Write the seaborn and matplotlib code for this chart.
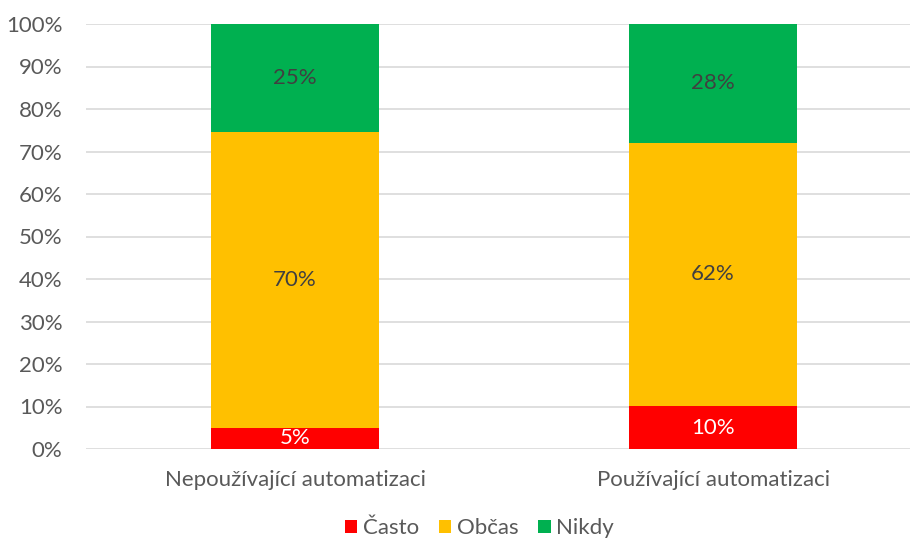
import seaborn as sns
import matplotlib.pyplot as plt
import pandas as pd
import numpy as np

sns.set_style("white")
plt.rcParams["font.family"] = ["Lato", "DejaVu Sans"]

groups = ["Nepoužívající automatizaci", "Používající automatizaci"]
series = ["Často", "Občas", "Nikdy"]
casto = [5.0, 10.1]
obcas = [69.6, 62.0]
nikdy = [25.4, 27.9]
colors = ["#FF0000", "#FFC000", "#00B050"]
label_colors = ["white", "#404040", "#404040"]

df = pd.DataFrame({"group": groups, "Často": casto, "Občas": obcas, "Nikdy": nikdy})
cum = df[series].cumsum(axis=1)

fig = plt.figure(figsize=(9.1, 5.42), dpi=100)
ax = fig.add_axes([86 / 910, 93 / 542, 1 - 86 / 910, 425 / 542])

# draw stacked bars from the top segment down so each overlays the previous
for i in reversed(range(len(series))):
    tmp = pd.DataFrame({"group": groups, "value": cum[series[i]]})
    sns.barplot(data=tmp, x="group", y="value", color=colors[i], width=0.402,
                saturation=1, ax=ax, label=series[i], linewidth=0, zorder=2)

# labels
for j in range(len(groups)):
    bottom = 0
    for i, s in enumerate(series):
        v = df[s][j]
        ax.text(j, bottom + v / 2, f"{round(v)}%", ha="center", va="center",
                fontsize=16, color=label_colors[i], zorder=3)
        bottom += v

ax.set_xlim(-0.5, 1.471)
ax.set_ylim(0, 100)
ax.set_yticks(np.arange(0, 101, 10))
ax.set_yticklabels([f"{t}%" for t in range(0, 101, 10)])
ax.yaxis.grid(True, color="#D9D9D9", linewidth=1.2, zorder=0)
ax.set_axisbelow(True)
for sp in ax.spines.values():
    sp.set_visible(False)
ax.tick_params(axis="both", length=0, labelsize=16, colors="#595959")
ax.tick_params(axis="y", pad=17)
ax.tick_params(axis="x", pad=15)
ax.set_xlabel("")
ax.set_ylabel("")

handles, labels = ax.get_legend_handles_labels()
if ax.get_legend() is not None:
    ax.get_legend().remove()
order = [labels.index(s) for s in series]
fig.legend([handles[k] for k in order], series, loc="lower center",
           bbox_to_anchor=(0.527, -0.03), ncol=3, frameon=False, fontsize=16,
           handlelength=0.55, handleheight=0.55, handletextpad=0.25, columnspacing=0.9,
           labelcolor="#595959")

plt.savefig("out.png", dpi=100)
plt.close()
